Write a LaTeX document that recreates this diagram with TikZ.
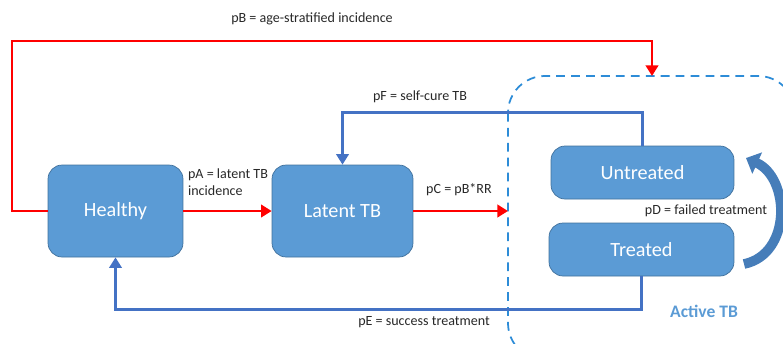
\documentclass[tikz,border=0pt]{standalone}
\usepackage{fontspec}
\setmainfont{Carlito}
\usetikzlibrary{arrows.meta}
\definecolor{tbBox}{RGB}{91,155,213}
\definecolor{tbBoxEdge}{RGB}{65,113,156}
\definecolor{tbFlow}{RGB}{68,114,196}
\definecolor{tbRed}{RGB}{255,0,0}
\definecolor{tbDash}{RGB}{45,140,215}
\definecolor{tbCurve}{RGB}{70,125,185}
\definecolor{tbText}{RGB}{40,40,40}

\begin{document}
\begin{tikzpicture}[x=0.02cm, y=-0.02cm,
  tbbox/.style={draw=tbBoxEdge, fill=tbBox, rounded corners=8pt, text=white, font=\fontsize{11.5}{13}\selectfont},
  redflow/.style={draw=tbRed, line width=1.5pt, -{Triangle[length=6pt,width=7pt]}},
  blueflow/.style={draw=tbFlow, line width=1.5pt, -{Triangle[length=6pt,width=7pt]}},
  flowlabel/.style={text=tbText, font=\fontsize{8}{9.5}\selectfont, inner sep=1pt}]
  \useasboundingbox (0,0) rectangle (783,343);

  % Active TB region (runs off the page)
  \begin{scope}
    \clip (0,0) rectangle (783,343);
    \draw[tbDash, line width=1pt, dash pattern=on 5pt off 3.5pt, rounded corners=21pt] (508,76) rectangle (795,360);
  \end{scope}

  % States
  \node[tbbox, minimum width=2.7cm, minimum height=1.84cm] (healthy) at (115.5,211) {Healthy};
  \node[tbbox, minimum width=2.82cm, minimum height=1.84cm] (latent) at (342.5,211) {Latent TB};
  \node[tbbox, minimum width=3.66cm, minimum height=1.06cm] (untreated) at (642.5,172.5) {Untreated};
  \node[tbbox, minimum width=3.7cm, minimum height=1.06cm] (treated) at (641.5,249.5) {Treated};
  \node[text=tbBox, font=\bfseries\fontsize{10}{12}\selectfont] (activeLabel) at (704,311) {Active TB};

  \coordinate (activeTop) at (652,76);
  \coordinate (activeLeft) at (508,211);
  \coordinate (pDstart) at (744,264);
  \coordinate (pDend) at (746,158);

  % Transitions
  \draw[redflow] (healthy.west) -| (12,41) -| (activeTop);
  \draw[redflow] (healthy) -- (latent);
  \draw[redflow] (latent.east) -- (activeLeft);
  \draw[blueflow] (untreated.north) -- ++(0,-33) -| (latent.north);
  \draw[blueflow] (treated.south) -- ++(0,33) -| (healthy.south);
  \draw[tbCurve, line width=5.5pt, -{Triangle[length=7pt,width=13pt]}] (pDstart) .. controls (792,254) and (790,178) .. (pDend);

  % Labels
  \node[flowlabel] (pB) at (312,19) {pB = age-stratified incidence};
  \node[flowlabel] (pF) at (420,97) {pF = self-cure TB};
  \node[flowlabel, align=left, anchor=north west] (pA) at (186,167) {pA = latent TB\\incidence};
  \node[flowlabel] (pC) at (459,190) {pC = pB*RR};
  \node[flowlabel] (pD) at (706,211) {pD = failed treatment};
  \node[flowlabel] (pE) at (424,322) {pE = success treatment};
\end{tikzpicture}
\end{document}
